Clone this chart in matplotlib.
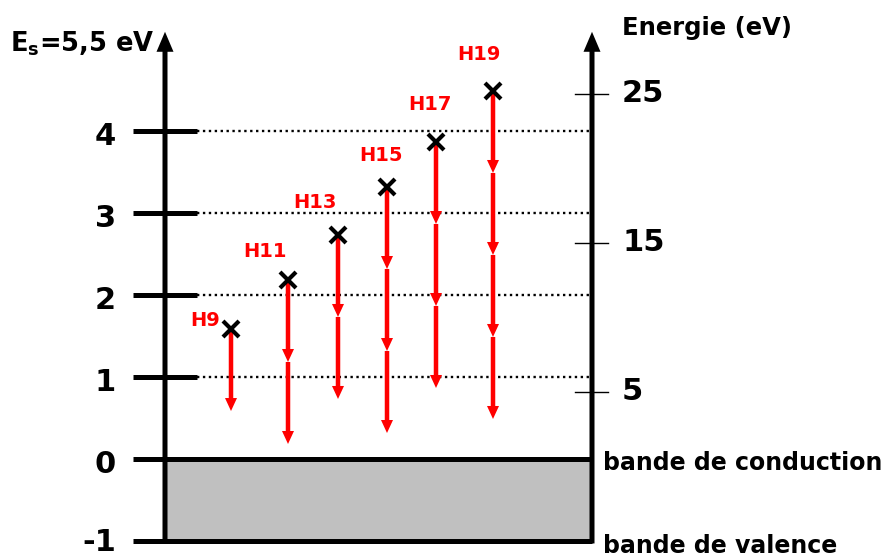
import matplotlib
matplotlib.use("Agg")
import matplotlib.pyplot as plt

# harmonic data (energies in units of E_s = 5.5 eV)
harmonics = ["H9", "H11", "H13", "H15", "H17", "H19"]
column_x = [231, 288, 338, 387, 436, 493]
heights = [1.585, 2.183, 2.732, 3.317, 3.866, 4.488]
n_steps = [1, 2, 2, 3, 3, 4]

left_ticks = [-1, 0, 1, 2, 3, 4]
dotted_levels = [1, 2, 3, 4]
right_ticks_ev = [5, 15, 25]

# label offsets (pixels) relative to each cross
label_dx = [-26, -23, -23, -6, -6, -14]
label_dy = [9, 28, 32, 32, 37, 36]

ES = 5.5
FONT = "DejaVu Sans"
RED = "#ff0000"


def ev_to_units(e):
    return (e - 0.5) / ES


def main() -> None:
    fig = plt.figure(figsize=(8.9, 5.58), dpi=100)
    ax = fig.add_axes([0, 0, 1, 1])
    ax.set_xlim(0, 890)
    ax.set_ylim(-99 / 82, 459 / 82)
    ax.axis("off")

    x_left, x_right = 165, 592

    # valence band
    ax.fill_between([x_left, x_right], -1, 0, color="#c0c0c0", lw=0, zorder=1)

    # left ticks
    for t in left_ticks:
        x_end = x_right if t in (0, -1) else 197
        ax.plot([133, x_end], [t, t], color="k", lw=3.6, solid_capstyle="butt", zorder=3)
        dy = -0.02 if t == -1 else -0.07
        ax.text(116, t + dy, str(t), ha="right", va="center", fontsize=22,
                fontweight="bold", family=FONT)
    for lv in dotted_levels:
        ax.plot([197, x_right], [lv, lv], color="k", lw=1.7, linestyle=(0, (1, 1.5)), zorder=2)

    # vertical axes with arrow heads
    for x in (x_left, x_right):
        ax.arrow(x, -1.03, 0, 6.24, width=5, head_width=17, head_length=20 / 82,
                 length_includes_head=True, color="k", lw=0, zorder=4)

    # right energy scale
    for e in right_ticks_ev:
        y = ev_to_units(e)
        ax.plot([575, 608], [y, y], color="k", lw=1.0, zorder=4)
        ax.text(622, y, str(e), ha="left", va="center", fontsize=22,
                fontweight="bold", family=FONT)

    ax.text(622, 5.256, "Energie (eV)", ha="left", va="center", fontsize=17.5,
            fontweight="bold", family=FONT)
    ax.text(10, 5.07, r"E$_\mathbf{s}$=5,5 eV", ha="left", va="center", fontsize=18.5,
            fontweight="bold", family=FONT)
    ax.text(603, -0.05, "bande de conduction", ha="left", va="center", fontsize=17,
            fontweight="bold", family=FONT)
    ax.text(603, -1.06, "bande de valence", ha="left", va="center", fontsize=17,
            fontweight="bold", family=FONT)

    # harmonics: cross + cascade of arrows (one E_s per step)
    for name, x, h, n, dx, dy in zip(harmonics, column_x, heights, n_steps, label_dx, label_dy):
        for k in range(n):
            ax.arrow(x, h - k, 0, -1, width=4.5, head_width=12, head_length=13 / 82,
                     length_includes_head=True, color=RED, lw=0, zorder=5)
        ax.plot(x, h, marker="x", color="k", ms=12, mew=3, zorder=6)
        ax.annotate(name, (x, h), xytext=(dx, dy), textcoords="offset pixels",
                    ha="center", va="center", fontsize=14, fontweight="bold",
                    color=RED, family=FONT)

    fig.savefig("out.png", dpi=100)


if __name__ == "__main__":
    main()
